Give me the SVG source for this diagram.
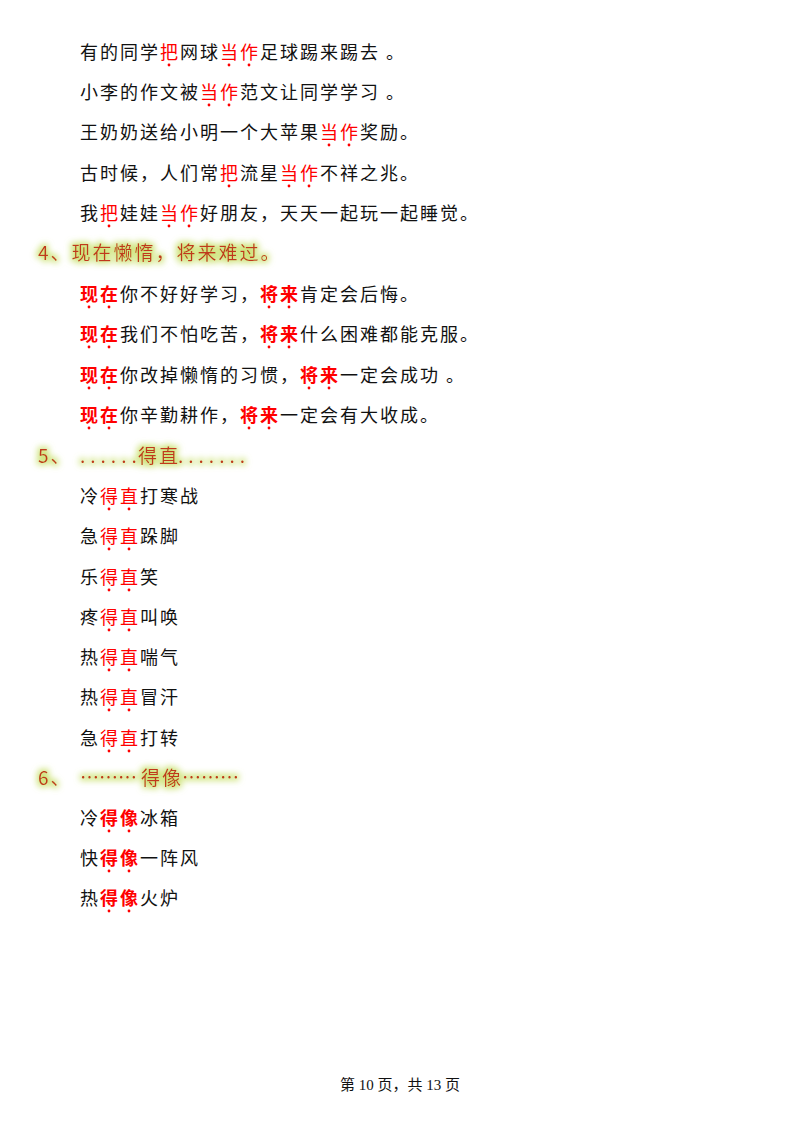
<svg xmlns="http://www.w3.org/2000/svg" width="800" height="1132" viewBox="0 0 800 1132">
<style>
text{font-family:"Noto Sans CJK SC","Noto Sans CJK JP",sans-serif;font-size:18px;letter-spacing:2px;fill:#111}
.r{fill:#ff0000}
.b{font-weight:bold}
.h{fill:#c0391a;font-size:19px;filter:url(#glow)}
circle{fill:#ff0000}
.f{font-family:"Liberation Serif","Noto Sans CJK SC",serif;font-size:15px;letter-spacing:0}
</style>
<defs>
<filter id="glow" x="-10%" y="-50%" width="120%" height="200%">
<feMorphology in="SourceAlpha" operator="dilate" radius="2" result="d"/>
<feGaussianBlur in="d" stdDeviation="3" result="bl"/>
<feFlood flood-color="#c8e06a" flood-opacity="0.9"/>
<feComposite in2="bl" operator="in" result="g"/>
<feMerge><feMergeNode in="g"/><feMergeNode in="SourceGraphic"/></feMerge>
</filter>
</defs>
<g id="s3">
<text x="80" y="59">有的同学<tspan class="r">把</tspan>网球<tspan class="r">当作</tspan>足球踢来踢去 。</text>
<circle cx="169" cy="65" r="1.4"/><circle cx="229" cy="65" r="1.4"/><circle cx="249" cy="65" r="1.4"/>
<text x="80" y="99">小李的作文被<tspan class="r">当作</tspan>范文让同学学习 。</text>
<circle cx="209" cy="105" r="1.4"/><circle cx="229" cy="105" r="1.4"/>
<text x="80" y="139">王奶奶送给小明一个大苹果<tspan class="r">当作</tspan>奖励。</text>
<circle cx="329" cy="145" r="1.4"/><circle cx="349" cy="145" r="1.4"/>
<text x="80" y="180">古时候，人们常<tspan class="r">把</tspan>流星<tspan class="r">当作</tspan>不祥之兆。</text>
<circle cx="229" cy="186" r="1.4"/><circle cx="289" cy="186" r="1.4"/><circle cx="309" cy="186" r="1.4"/>
<text x="80" y="220">我<tspan class="r">把</tspan>娃娃<tspan class="r">当作</tspan>好朋友，天天一起玩一起睡觉。</text>
<circle cx="109" cy="226" r="1.4"/><circle cx="169" cy="226" r="1.4"/><circle cx="189" cy="226" r="1.4"/>
</g>
<g id="s4">
<text class="h" x="38" y="260">4、现在懒惰，将来难过。</text>
<text x="80" y="301"><tspan class="r b">现在</tspan>你不好好学习，<tspan class="r b">将来</tspan>肯定会后悔。</text>
<circle cx="89" cy="307" r="1.4"/><circle cx="109" cy="307" r="1.4"/><circle cx="269" cy="307" r="1.4"/><circle cx="289" cy="307" r="1.4"/>
<text x="80" y="341"><tspan class="r b">现在</tspan>我们不怕吃苦，<tspan class="r b">将来</tspan>什么困难都能克服。</text>
<circle cx="89" cy="347" r="1.4"/><circle cx="109" cy="347" r="1.4"/><circle cx="269" cy="347" r="1.4"/><circle cx="289" cy="347" r="1.4"/>
<text x="80" y="382"><tspan class="r b">现在</tspan>你改掉懒惰的习惯，<tspan class="r b">将来</tspan>一定会成功 。</text>
<circle cx="89" cy="388" r="1.4"/><circle cx="109" cy="388" r="1.4"/><circle cx="309" cy="388" r="1.4"/><circle cx="329" cy="388" r="1.4"/>
<text x="80" y="422"><tspan class="r b">现在</tspan>你辛勤耕作，<tspan class="r b">将来</tspan>一定会有大收成。</text>
<circle cx="89" cy="428" r="1.4"/><circle cx="109" cy="428" r="1.4"/><circle cx="249" cy="428" r="1.4"/><circle cx="269" cy="428" r="1.4"/>
</g>
<g id="s5">
<text class="h" x="38" y="463">5、<tspan x="80" style="letter-spacing:5px">......</tspan><tspan x="138">得直</tspan><tspan x="178" style="letter-spacing:5px">.......</tspan></text>
<text x="80" y="503">冷<tspan class="r">得直</tspan>打寒战</text>
<text x="80" y="543">急<tspan class="r">得直</tspan>跺脚</text>
<text x="80" y="584">乐<tspan class="r">得直</tspan>笑</text>
<text x="80" y="624">疼<tspan class="r">得直</tspan>叫唤</text>
<text x="80" y="664">热<tspan class="r">得直</tspan>喘气</text>
<text x="80" y="704">热<tspan class="r">得直</tspan>冒汗</text>
<text x="80" y="745">急<tspan class="r">得直</tspan>打转</text>
<circle cx="109" cy="509" r="1.4"/><circle cx="129" cy="509" r="1.4"/>
<circle cx="109" cy="549" r="1.4"/><circle cx="129" cy="549" r="1.4"/>
<circle cx="109" cy="590" r="1.4"/><circle cx="129" cy="590" r="1.4"/>
<circle cx="109" cy="630" r="1.4"/><circle cx="129" cy="630" r="1.4"/>
<circle cx="109" cy="670" r="1.4"/><circle cx="129" cy="670" r="1.4"/>
<circle cx="109" cy="710" r="1.4"/><circle cx="129" cy="710" r="1.4"/>
<circle cx="109" cy="751" r="1.4"/><circle cx="129" cy="751" r="1.4"/>
</g>
<g id="s6">
<text class="h" x="38" y="785">6、<tspan x="80" style="letter-spacing:0">………</tspan><tspan x="141">得像</tspan><tspan x="182" style="letter-spacing:0">………</tspan></text>
<text x="80" y="825">冷<tspan class="r b">得像</tspan>冰箱</text>
<text x="80" y="865">快<tspan class="r b">得像</tspan>一阵风</text>
<text x="80" y="905">热<tspan class="r b">得像</tspan>火炉</text>
<circle cx="109" cy="831" r="1.4"/><circle cx="129" cy="831" r="1.4"/>
<circle cx="109" cy="871" r="1.4"/><circle cx="129" cy="871" r="1.4"/>
<circle cx="109" cy="911" r="1.4"/><circle cx="129" cy="911" r="1.4"/>
</g>
<text class="f" x="400" y="1090" text-anchor="middle">第 10 页，共 13 页</text>
</svg>
